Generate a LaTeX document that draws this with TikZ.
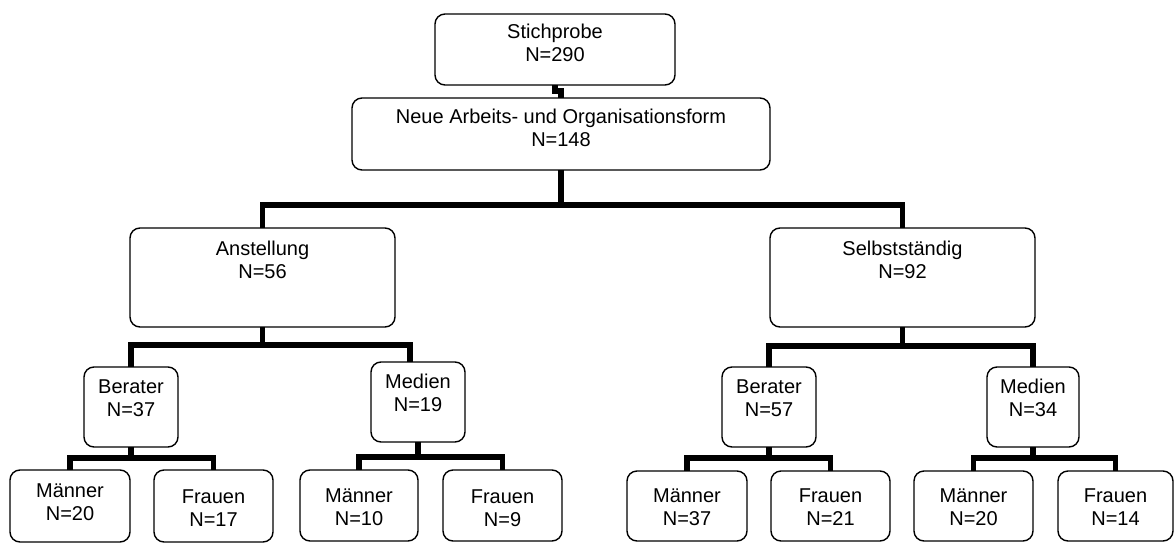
\documentclass[tikz,border=0pt]{standalone}
\usepackage{fontspec}
\setmainfont{Liberation Sans}
\tikzset{
  box/.style={draw=black, line width=1.4pt, rounded corners=10pt, fill=white,
    inner sep=0pt, outer sep=0pt, anchor=north west},
  txt/.style={inner sep=0pt, align=center, anchor=north,
    font=\fontsize{20}{23}\selectfont},
  conn/.style={draw=black, line width=5.5pt, line join=miter, line cap=butt}
}
% name, x1, y1, x2, y2, first baseline, text
\newcommand\mybox[7]{%
  \node[box, minimum width={(#4-#2)*1pt}, minimum height={(#5-#3)*1pt}] (#1) at (#2,#3) {};
  \node[txt] (#1t) at ({(#2+#4)/2},#6-15) {\rule{0pt}{15pt}#7};
}
\begin{document}
\begin{tikzpicture}[x=1pt,y=-1pt]
\useasboundingbox[fill=white] (0,0) rectangle (1176,544);
\mybox{st}{435}{14}{675}{85}{38}{Stichprobe\\N=290}
\mybox{neu}{352}{98}{770}{170}{123}{Neue Arbeits- und Organisationsform\\N=148}
\mybox{ans}{130}{228}{395}{327}{255}{Anstellung\\N=56}
\mybox{sel}{770}{228}{1035}{327}{255}{Selbstständig\\N=92}
\mybox{berA}{84}{367}{178}{447}{393}{Berater\\N=37}
\mybox{medA}{371}{362}{465}{442}{388}{Medien\\N=19}
\mybox{berB}{722}{367}{816}{447}{393}{Berater\\N=57}
\mybox{medB}{987}{367}{1079}{447}{393}{Medien\\N=34}
\mybox{mA}{10}{470}{130}{542}{497}{Männer\\N=20}
\mybox{fA}{154}{470}{273}{542}{503}{Frauen\\N=17}
\mybox{mB}{300}{470}{418}{541}{502}{Männer\\N=10}
\mybox{fB}{443}{470}{562}{541}{503}{Frauen\\N=9}
\mybox{mC}{627}{471}{747}{541}{502}{Männer\\N=37}
\mybox{fC}{771}{471}{890}{541}{502}{Frauen\\N=21}
\mybox{mD}{914}{471}{1033}{541}{502}{Männer\\N=20}
\mybox{fD}{1058}{471}{1173}{541}{502}{Frauen\\N=14}
% connectors
\draw[conn] (st.south) -- ++(0,6) -| (neu.north);
\draw[conn] (neu.south) -- ++(0,35) -| (ans.north);
\draw[conn] (neu.south) -- ++(0,35) -| (sel.north);
\draw[conn] (ans.south) -- ++(0,18) -| (berA.north);
\draw[conn] (ans.south) -- ++(0,18) -| ([xshift=-8pt]medA.north);
\draw[conn] (sel.south) -- ++(0,19) -| (berB.north);
\draw[conn] (sel.south) -- ++(0,19) -| (medB.north);
\draw[conn] (berA.south) -- ++(0,11) -| (mA.north);
\draw[conn] (berA.south) -- ++(0,11) -| (fA.north);
\draw[conn] (medA.south) -- ++(0,15) -| (mB.north);
\draw[conn] (medA.south) -- ++(0,15) -| (fB.north);
\draw[conn] (berB.south) -- ++(0,11) -| (mC.north);
\draw[conn] (berB.south) -- ++(0,11) -| (fC.north);
\draw[conn] (medB.south) -- ++(0,11) -| (mD.north);
\draw[conn] (medB.south) -- ++(0,11) -| (fD.north);
\end{tikzpicture}
\end{document}
